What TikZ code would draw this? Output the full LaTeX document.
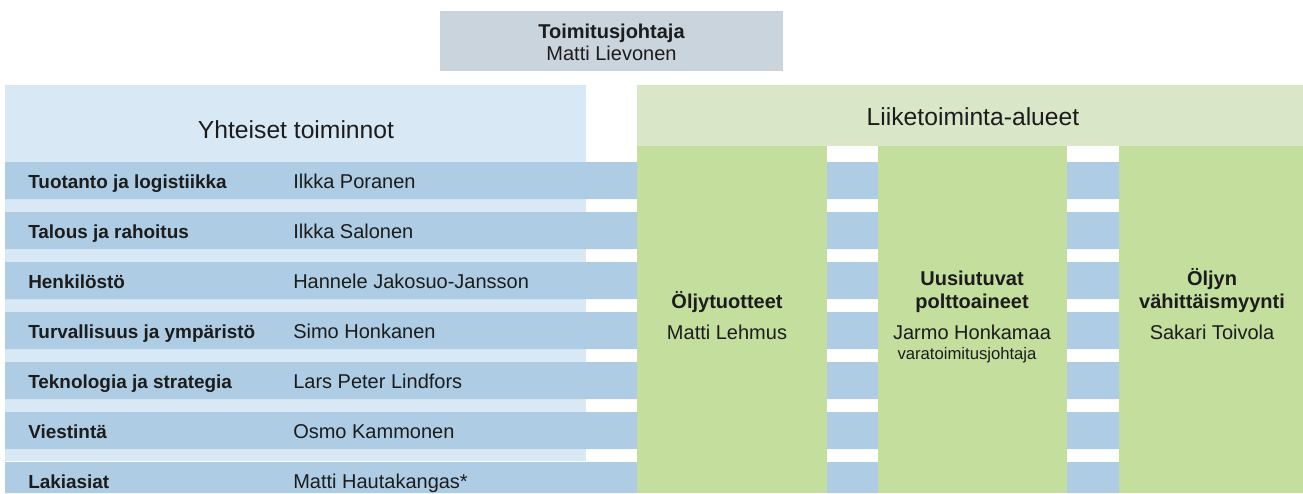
\documentclass[tikz,border=0pt]{standalone}
\usepackage{fontspec}
\setmainfont{Liberation Sans}
\definecolor{ceogray}{RGB}{202,212,221}
\definecolor{panelblue}{RGB}{216,232,245}
\definecolor{rowblue}{RGB}{174,205,228}
\definecolor{headgreen}{RGB}{218,230,200}
\definecolor{colgreen}{RGB}{196,222,158}
\definecolor{inkgray}{RGB}{28,28,28}

\begin{document}
\begin{tikzpicture}[x=0.75pt, y=-0.75pt,
        every node/.style={text=inkgray, inner sep=0pt},
        band/.style={fill=rowblue},
        lbl/.style={anchor=base west, font=\bfseries\fontsize{14.2}{17}\selectfont},
        who/.style={anchor=base west, font=\fontsize{15}{18}\selectfont},
        head/.style={anchor=base, font=\fontsize{18.5}{22}\selectfont},
        unit/.style={anchor=base, font=\bfseries\fontsize{15}{18}\selectfont},
        boss/.style={anchor=base, font=\fontsize{15}{18}\selectfont}]
        \useasboundingbox (0,0) rectangle (1303,493);

        % panels
        \fill[panelblue] (5,85) rectangle (586,461);
        \fill[headgreen] (637,85) rectangle (1303,146);
        \fill[colgreen] (637,146) rectangle (827,493);
        \fill[colgreen] (878,146) rectangle (1067,493);
        \fill[colgreen] (1119,146) rectangle (1303,493);

        % row bands
        \fill[band] (5,162) rectangle (637,199) (827,162) rectangle (878,199) (1067,162) rectangle (1119,199);
        \fill[band] (5,212) rectangle (637,249) (827,212) rectangle (878,249) (1067,212) rectangle (1119,249);
        \fill[band] (5,262) rectangle (637,299) (827,262) rectangle (878,299) (1067,262) rectangle (1119,299);
        \fill[band] (5,312) rectangle (637,349) (827,312) rectangle (878,349) (1067,312) rectangle (1119,349);
        \fill[band] (5,362) rectangle (637,399) (827,362) rectangle (878,399) (1067,362) rectangle (1119,399);
        \fill[band] (5,412) rectangle (637,449) (827,412) rectangle (878,449) (1067,412) rectangle (1119,449);
        \fill[band] (5,462) rectangle (637,493) (827,462) rectangle (878,493) (1067,462) rectangle (1119,493);

        % top
        \node[fill=ceogray, minimum width=257.25pt, minimum height=45pt] (ceobox) at (611.5,41) {};
        \node[unit] (ceotitle) at (611.5,38) {Toimitusjohtaja};
        \node[boss] (ceoname) at (611.5,60) {Matti Lievonen};

        \node[head] (common) at (296,138) {Yhteiset toiminnot};
        \node[head] (business) at (973,125) {Liiketoiminta-alueet};

        % common functions
        \node[lbl] (prod) at (28,188) {Tuotanto ja logistiikka};
        \node[who] (prodhead) at (293,188) {Ilkka Poranen};
        \node[lbl] (fin) at (28,238) {Talous ja rahoitus};
        \node[who] (finhead) at (293,238) {Ilkka Salonen};
        \node[lbl] (hr) at (28,288) {Henkilöstö};
        \node[who] (hrhead) at (293,288) {Hannele Jakosuo-Jansson};
        \node[lbl] (safe) at (28,338) {Turvallisuus ja ympäristö};
        \node[who] (safehead) at (293,338) {Simo Honkanen};
        \node[lbl] (tech) at (28,388) {Teknologia ja strategia};
        \node[who] (techhead) at (293,388) {Lars Peter Lindfors};
        \node[lbl] (comm) at (28,438) {Viestintä};
        \node[who] (commhead) at (293,438) {Osmo Kammonen};
        \node[lbl] (legal) at (28,488) {Lakiasiat};
        \node[who] (legalhead) at (293,488) {Matti Hautakangas*};

        % business areas
        \node[unit] (oil) at (727,308) {Öljytuotteet};
        \node[boss] (oilhead) at (727,339) {Matti Lehmus};
        \node[unit] (renew) at (972,285) {Uusiutuvat};
        \node[unit] (renewb) at (972,308) {polttoaineet};
        \node[boss] (renewhead) at (972,339) {Jarmo Honkamaa};
        \node[boss, font=\fontsize{12.5}{15}\selectfont] (renewrole) at (967,359) {varatoimitusjohtaja};
        \node[unit] (retail) at (1212,285) {Öljyn};
        \node[unit] (retailb) at (1212,308) {vähittäismyynti};
        \node[boss] (retailhead) at (1212,339) {Sakari Toivola};
    \end{tikzpicture}
\end{document}
